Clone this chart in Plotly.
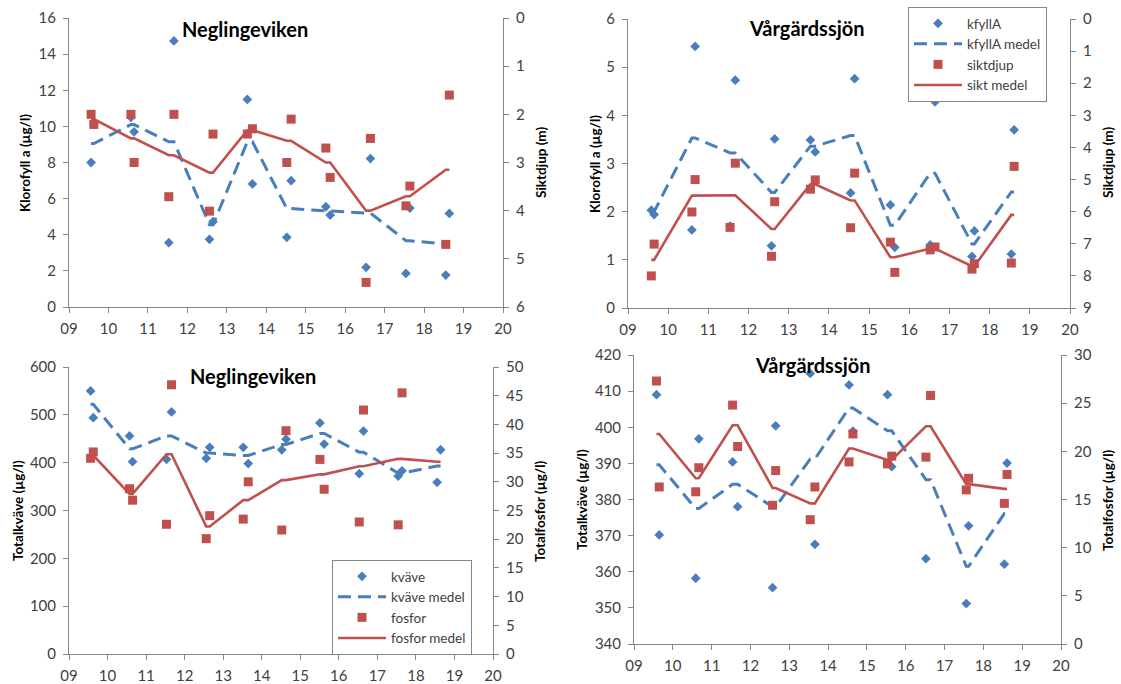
import plotly.graph_objects as go

# ---------------- data ----------------
years = list(range(2009, 2019))
x_tick_vals = list(range(9, 21))
x_tick_text = ["09", "10", "11", "12", "13", "14", "15", "16", "17", "18", "19", "20"]

# sampling dates (decimal year, two samples per year)
neg_dates = [9.56, 9.63, 10.57, 10.65, 11.53, 11.66, 12.56, 12.65, 13.52, 13.65,
             14.52, 14.63, 15.51, 15.62, 16.53, 16.64, 17.54, 17.64, 18.55, 18.64]
varg_dates = [9.58, 9.65, 10.59, 10.67, 11.54, 11.67, 12.57, 12.65, 13.54, 13.66,
              14.54, 14.64, 15.53, 15.64, 16.52, 16.64, 17.56, 17.62, 18.54, 18.61]

# Neglingeviken - klorofyll / siktdjup
neg_kfyll = [8.0, 10.1, 10.5, 9.7, 3.56, 14.73, 3.75, 4.72, 11.49, 6.81,
             3.86, 6.99, 5.55, 5.09, 2.2, 8.22, 1.86, 5.48, 1.77, 5.18]
neg_kfyll_medel = [9.05, 10.1, 9.15, 4.55, 9.15, 5.45, 5.32, 5.2, 3.67, 3.48]
neg_sikt = [2.0, 2.21, 2.0, 3.0, 3.71, 2.0, 4.01, 2.41, 2.41, 2.30,
            3.0, 2.1, 2.7, 3.31, 5.49, 2.5, 3.9, 3.49, 4.7, 1.6]
neg_sikt_medel = [2.1, 2.5, 2.85, 3.21, 2.33, 2.55, 3.0, 4.0, 3.7, 3.15]

# Vårgärdssjön - klorofyll / siktdjup
varg_kfyll = [2.03, 1.94, 1.62, 5.43, 1.7, 4.73, 1.29, 3.51, 3.49, 3.24,
              2.39, 4.76, 2.14, 1.26, 1.31, 4.28, 1.07, 1.60, 1.12, 3.70]
varg_kfyll_medel = [2.0, 3.53, 3.22, 2.4, 3.36, 3.58, 1.72, 2.8, 1.33, 2.41]
varg_sikt = [8.0, 7.01, 6.01, 5.0, 6.49, 4.49, 7.39, 5.69, 5.30, 5.01,
             6.50, 4.80, 6.95, 7.89, 7.19, 7.10, 7.79, 7.62, 7.60, 4.59]
varg_sikt_medel = [7.5, 5.5, 5.49, 6.54, 5.15, 5.65, 7.42, 7.15, 7.7, 6.1]

# Neglingeviken - kväve / fosfor
neg_kvave = [550, 494, 456, 402, 407, 506, 409, 432, 432, 398,
             427, 449, 483, 439, 377, 466, 372, 383, 359, 427]
neg_kvave_medel = [522, 429, 456, 420, 415, 438, 461, 422, 378, 393]
neg_fosfor = [34.1, 35.2, 28.8, 26.8, 22.6, 46.9, 20.1, 24.1, 23.5, 30.0,
              21.6, 38.9, 33.9, 28.7, 23.0, 42.5, 22.5, 45.5, None, None]
neg_fosfor_medel = [34.6, 27.9, 34.8, 22.2, 26.8, 30.3, 31.3, 32.7, 34.0, 33.5]

# Vårgärdssjön - kväve / fosfor
varg_kvave = [409.0, 370.2, 358.2, 396.8, 390.4, 378.0, 355.6, 400.4, 414.9, 367.6,
              411.7, 398.9, 409.0, 389.1, 363.6, 408.8, 351.2, 372.7, 362.1, 390.1]
varg_kvave_medel = [389.6, 377.5, 384.2, 378.0, 391.2, 405.3, 399.0, 385.5, 361.5, 376.1]
varg_fosfor = [27.3, 16.3, 15.8, 18.3, 24.8, 20.5, 14.4, 18.0, 12.9, 16.3,
               18.9, 21.8, 18.7, 19.5, 19.4, 25.8, 16.0, 17.2, 14.6, 17.6]
varg_fosfor_medel = [21.8, 17.2, 22.7, 16.2, 14.6, 20.3, 19.1, 22.6, 16.6, 16.1]

# ---------------- style ----------------
W, H = 1121, 684
FONT = "Lato"
BLUE = "#4A7EBB"
RED = "#C0504D"
AXC = "#868686"
TXT = "#404040"


def px_x(p):
    return p / W


def px_y(p):
    return 1 - p / H


def expand(means):
    out = []
    for m in means:
        out += [m, m]
    return out


fig = go.Figure()

# panel boxes in pixels: (left, right, top, bottom)
panels = [
    dict(box=(69, 503, 18, 307), title="Neglingeviken", tpos=(180, 29),
         dates=neg_dates, a=neg_kfyll, am=neg_kfyll_medel, b=neg_sikt, bm=neg_sikt_medel,
         names=("kfyllA", "kfyllA medel", "siktdjup", "sikt medel"), legend=None,
         lrange=[0, 16], ldt=2, rrange=[6, 0], rdt=1,
         ltitle="Klorofyll a (µg/l)", lt=(25, 163), rtitle="Siktdjup (m)", rt=(541, 163)),
    dict(box=(628, 1070, 19, 308), title="Vårgärdssjön", tpos=(747, 28),
         dates=varg_dates, a=varg_kfyll, am=varg_kfyll_medel, b=varg_sikt, bm=varg_sikt_medel,
         names=("kfyllA", "kfyllA medel", "siktdjup", "sikt medel"), legend="legend",
         lrange=[0, 6], ldt=1, rrange=[9, 0], rdt=1,
         ltitle="Klorofyll a (µg/l)", lt=(595, 164), rtitle="Siktdjup (m)", rt=(1108, 163)),
    dict(box=(69, 493, 367, 654), title="Neglingeviken", tpos=(188, 376),
         dates=neg_dates, a=neg_kvave, am=neg_kvave_medel, b=neg_fosfor, bm=neg_fosfor_medel,
         names=("kväve", "kväve medel", "fosfor", "fosfor medel"), legend="legend2",
         lrange=[0, 600], ldt=100, rrange=[0, 50], rdt=5,
         ltitle="Totalkväve (µg/l)", lt=(18, 511), rtitle="Totalfosfor (µg/l)", rt=(540, 511)),
    dict(box=(634, 1061, 355, 644), title="Vårgärdssjön", tpos=(753, 365),
         dates=varg_dates, a=varg_kvave, am=varg_kvave_medel, b=varg_fosfor, bm=varg_fosfor_medel,
         names=("kväve", "kväve medel", "fosfor", "fosfor medel"), legend=None,
         lrange=[340, 420], ldt=10, rrange=[0, 30], rdt=5,
         ltitle="Totalkväve (µg/l)", lt=(582, 500), rtitle="Totalfosfor (µg/l)", rt=(1108, 500)),
]

annotations = []
layout_axes = {}
tickfont = dict(family=FONT, size=15, color=TXT)

for i, p in enumerate(panels):
    xn = "x" if i == 0 else f"x{i + 1}"
    yl = 2 * i + 1
    yr = 2 * i + 2
    yln = "y" if yl == 1 else f"y{yl}"
    yrn = f"y{yr}"
    L, R, T, B = p["box"]
    show = p["legend"] is not None
    leg = p["legend"] if show else "legend"
    med_dates = p["dates"]

    fig.add_trace(go.Scatter(x=p["dates"], y=p["a"], mode="markers", name=p["names"][0],
                             marker=dict(symbol="diamond", size=7.5, color=BLUE),
                             xaxis=xn, yaxis=yln, showlegend=show, legend=leg))
    fig.add_trace(go.Scatter(x=med_dates, y=expand(p["am"]), mode="lines", name=p["names"][1],
                             line=dict(color=BLUE, width=3, dash="13px,7px"),
                             xaxis=xn, yaxis=yln, showlegend=show, legend=leg))
    fig.add_trace(go.Scatter(x=p["dates"], y=p["b"], mode="markers", name=p["names"][2],
                             marker=dict(symbol="square", size=9, color=RED),
                             xaxis=xn, yaxis=yrn, showlegend=show, legend=leg))
    fig.add_trace(go.Scatter(x=med_dates, y=expand(p["bm"]), mode="lines", name=p["names"][3],
                             line=dict(color=RED, width=2.6),
                             xaxis=xn, yaxis=yrn, showlegend=show, legend=leg))

    xkey = "xaxis" if i == 0 else f"xaxis{i + 1}"
    ylkey = "yaxis" if yl == 1 else f"yaxis{yl}"
    yrkey = f"yaxis{yr}"
    common = dict(showline=True, linecolor=AXC, linewidth=1, ticks="outside", ticklen=5,
                  tickcolor=AXC, tickwidth=1, showgrid=False, zeroline=False,
                  tickfont=tickfont, mirror=False, automargin=False)
    layout_axes[xkey] = dict(domain=[px_x(L), px_x(R)], anchor=yln, range=[9, 20],
                             tickvals=x_tick_vals, ticktext=x_tick_text,
                             ticklabelstandoff=3, **common)
    layout_axes[ylkey] = dict(domain=[px_y(B), px_y(T)], anchor=xn, range=p["lrange"],
                              dtick=p["ldt"], tick0=p["lrange"][0], side="left",
                              ticklabelstandoff=4, **common)
    layout_axes[yrkey] = dict(domain=[px_y(B), px_y(T)], anchor=xn, range=p["rrange"],
                              dtick=p["rdt"], tick0=0, side="right", overlaying=yln,
                              ticklabelstandoff=4, **common)

    annotations.append(dict(text="<b>" + p["title"] + "</b>", x=px_x(p["tpos"][0]),
                            y=px_y(p["tpos"][1]), xref="paper", yref="paper",
                            showarrow=False, xanchor="left", yanchor="middle",
                            font=dict(family=FONT, size=20, color="#000000")))
    annotations.append(dict(text="<b>" + p["ltitle"] + "</b>", x=px_x(p["lt"][0]),
                            y=px_y(p["lt"][1]), xref="paper", yref="paper", textangle=-90,
                            showarrow=False, xanchor="center", yanchor="middle",
                            font=dict(family=FONT, size=13.5, color="#000000")))
    annotations.append(dict(text="<b>" + p["rtitle"] + "</b>", x=px_x(p["rt"][0]),
                            y=px_y(p["rt"][1]), xref="paper", yref="paper", textangle=-90,
                            showarrow=False, xanchor="center", yanchor="middle",
                            font=dict(family=FONT, size=13.5, color="#000000")))

legend_style = dict(bgcolor="white", bordercolor=AXC, borderwidth=1,
                    font=dict(family=FONT, size=13.5, color=TXT), tracegroupgap=0,
                    xanchor="left", yanchor="top", itemwidth=48)

fig.update_layout(
    width=W, height=H,
    autosize=False,
    margin=dict(l=0, r=0, t=0, b=0, pad=0, autoexpand=False),
    paper_bgcolor="white", plot_bgcolor="white",
    font=dict(family=FONT, size=15, color=TXT),
    annotations=annotations,
    legend=dict(x=px_x(908), y=px_y(7), **legend_style),
    legend2=dict(x=px_x(332), y=px_y(560), **legend_style),
    **layout_axes,
)

fig.write_html("out.html",
               config=dict(displayModeBar=False, responsive=False),
               post_script="document.body.style.margin='0';document.body.style.overflow='hidden';")
